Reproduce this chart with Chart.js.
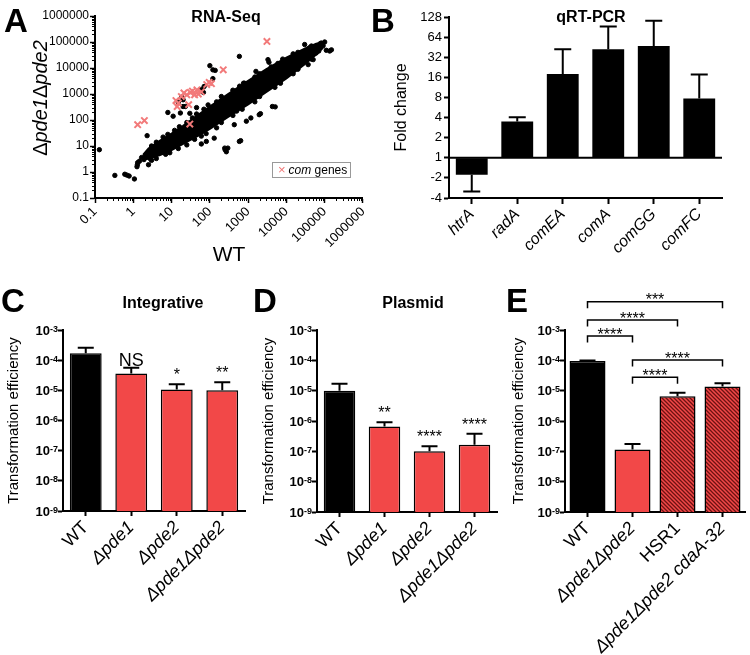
<!DOCTYPE html>
<html>
<head>
<meta charset="utf-8">
<title>pde1 pde2 competence</title>
<script src="https://cdn.jsdelivr.net/npm/chart.js@4.4.1/dist/chart.umd.min.js"></script>
<style>
  body { margin: 0; width: 750px; height: 655px; position: relative; overflow: hidden; background: #fff;
         font-family: 'Liberation Sans', Arial, sans-serif; color: #000; }
  canvas { position: absolute; }
  .letter { position: absolute; font-size: 33px; font-weight: bold; line-height: 1; }
  .ttl { position: absolute; font-size: 16px; font-weight: bold; transform: translate(-50%, -50%); white-space: nowrap; }
  .ytitle { position: absolute; font-size: 20px; white-space: nowrap; transform: translate(-50%, -50%) rotate(-90deg); }
  .legend { position: absolute; left: 272px; top: 162px; width: 77px; height: 14px; border: 1px solid #999;
            font-size: 12px; line-height: 14px; white-space: nowrap; }
  .legend .mk { color: #f07878; padding: 0 3px 0 5px; font-size: 13px; }
</style>
</head>
<body>
<canvas id="chartA" width="375" height="270" style="left:0;top:0"></canvas>
<canvas id="chartB" width="375" height="270" style="left:375px;top:0"></canvas>
<canvas id="chartC" width="250" height="395" style="left:0;top:260px"></canvas>
<canvas id="chartD" width="250" height="395" style="left:250px;top:260px"></canvas>
<canvas id="chartE" width="250" height="395" style="left:500px;top:260px"></canvas>

<div class="letter" style="left:4px;top:4px">A</div>
<div class="letter" style="left:371px;top:4px">B</div>
<div class="letter" style="left:1px;top:284px">C</div>
<div class="letter" style="left:253px;top:284px">D</div>
<div class="letter" style="left:506px;top:284px">E</div>
<div class="ttl" style="left:226px;top:17px">RNA-Seq</div>
<div class="ttl" style="left:591px;top:17px">qRT-PCR</div>
<div class="ttl" style="left:163px;top:303px">Integrative</div>
<div class="ttl" style="left:413px;top:303px">Plasmid</div>
<div class="ytitle" style="left:40px;top:98px">Δ<i>pde1</i>Δ<i>pde2</i></div>
<div class="legend"><span class="mk">×</span><i>com</i> genes</div>

<script>
Chart.defaults.font.family = "'Liberation Sans', Arial, sans-serif";
Chart.defaults.color = '#000';
Chart.defaults.animation = false;
Chart.defaults.plugins.legend.display = false;
Chart.defaults.plugins.tooltip.enabled = false;

// A - RNA-Seq, WT vs double mutant
const rnaTickValues = [0.1, 1, 10, 100, 1000, 10000, 100000, 1000000];
const rnaTickLabels = ['0.1', '1', '10', '100', '1000', '10000', '100000', '1000000'];
// dense part of the cloud, upper and lower edge
const bandUpper = [[1.8,4.5],[2.5,8],[5,16],[10,30],[20,60],[50,160],[100,330],[300,1000],[1000,3200],
  [3000,9000],[10000,25000],[30000,55000],[60000,85000],[90000,95000]];
const bandLower = [[1.8,3],[2.5,3.2],[5,4.5],[10,7],[20,12],[50,25],[100,45],[300,130],[1000,400],
  [3000,1200],[10000,4000],[30000,14000],[60000,33000],[90000,60000]];
const otherGenes = [
  [0.13,7.2],[0.33,0.74],[0.6,0.82],[0.68,0.76],[0.78,0.7],[1.07,0.54],[1.25,1.6],[1.3,2.3],[1.28,1.9],
  [1.45,2.6],[1.65,3.6],[1.9,3],[2.3,25],[2.5,1.9],[2.2,4.2],[2.8,3.2],[3.2,5.5],
  [8,195],[11,140],[15,480],[20,330],[18.6,760],[17,186],[20,600],[23,330],[59,1500],[68,1150],[71,1950],
  [100,12300],[120,8500],[120,3900],[138,8100],[590,28000],[1600,7400],[3300,21000],[3500,16600],
  [760,2600],[30,180],[45,300],
  [81,15],[250,7.2],[245,8.3],[270,6],[295,8.3],[590,15],[640,16],[435,66],[1180,120],[1950,160],
  [2100,175],[4300,330],[5100,320],[130,20],[60,12],[900,90],
  [30000,80000],[81000,91000],[91000,72000],[110000,48000],[135000,45000],[60000,38000],[50000,21000],
  [37000,13500],[13800,7400],[100000,100000],[75000,85000],[40000,60000],[150000,50000],[70000,60000],
  [25000,30000],
  [3,10],[4,14],[6,22],[8,28],[12,40],[16,55],[25,80],[35,120],[45,170],[70,260],[90,380],[150,500],
  [200,800],[400,1400],[600,2000],[800,2600],[1500,4500],[2000,6000],[4000,11000],[6000,15000],
  [8000,22000],[15000,35000],[20000,40000],[45000,70000],
  [3,2.8],[4,3.3],[7,4.8],[9,5.5],[15,8],[25,11],[40,18],[60,24],[80,30],[150,50],[200,80],[400,150],
  [500,220],[700,260],[1500,500],[2000,800],[5000,1800],[7000,2600],[15000,6000],[20000,9000],
  [45000,22000],[70000,45000]
];
const comGenes = [[1.3,66],[1.95,95],[13,560],[14,330],[15,450],[18,800],[21,1100],[25,930],[28,390],
  [31,1150],[35,1300],[40,930],[46,1450],[50,1000],[60,1200],[83,2300],[96,2800],[110,2500],
  [224,8500],[3100,105000],[30,70]];

// B - qRT-PCR fold change (GraphPad style: -2 means 1/2)
const qpcrGenes = ['htrA', 'radA', 'comEA', 'comA', 'comGG', 'comFC'];
const qpcrFold = [-1.8, 3.5, 18, 42, 47, 7.7];
const qpcrErr = [-3.2, 4.05, 42, 92, 112, 17.7];
const foldTicks = [-4, -2, 1, 2, 4, 8, 16, 32, 64, 128];

// C-E - transformation efficiency
const effTicks = [1e-9, 1e-8, 1e-7, 1e-6, 1e-5, 1e-4, 1e-3];
const strains = ['WT', 'Δpde1', 'Δpde2', 'Δpde1Δpde2'];
const integrative = [1.7e-4, 3.6e-5, 1.07e-5, 1.0e-5];
const integrativeErr = [2.6e-4, 5.6e-5, 1.58e-5, 1.85e-5];
const integrativeSig = ['', 'NS', '*', '**'];
const plasmid = [1.0e-5, 6.6e-7, 1.0e-7, 1.66e-7];
const plasmidErr = [1.7e-5, 9.1e-7, 1.47e-7, 3.8e-7];
const plasmidSig = ['', '**', '****', '****'];
const suppressors = ['WT', 'Δpde1Δpde2', 'HSR1', 'Δpde1Δpde2 cdaA-32'];
const suppressorEff = [9.5e-5, 1.15e-7, 6.5e-6, 1.38e-5];
const suppressorErr = [9.8e-5, 1.75e-7, 8.5e-6, 1.74e-5];
const suppressorPairs = [[0, 3, '***'], [0, 2, '****'], [0, 1, '****'], [1, 3, '****'], [1, 2, '****']];

const RED = '#f24848';
const toLog2 = v => v < 0 ? -Math.log2(-v) : Math.log2(v);
const xy = arr => arr.map(([x, y]) => ({x, y}));

function hatch() {
  const c = document.createElement('canvas');
  c.width = c.height = 4;
  const g = c.getContext('2d');
  g.fillStyle = RED;
  g.fillRect(0, 0, 4, 4);
  g.strokeStyle = '#6e1212';
  g.lineWidth = 1.3;
  g.beginPath();
  g.moveTo(-1, -1); g.lineTo(5, 5);
  g.moveTo(-1, 3); g.lineTo(1, 5);
  g.moveTo(3, -1); g.lineTo(5, 1);
  g.stroke();
  return g.createPattern(c, 'repeat');
}

// small ticks between decades on panel A
const minorLogTicks = {
  id: 'minorLogTicks',
  afterDraw(chart) {
    const {ctx, chartArea: a, scales: {x, y}} = chart;
    ctx.save();
    ctx.strokeStyle = '#000';
    ctx.lineWidth = 1;
    ctx.beginPath();
    for (let d = 0; d < rnaTickValues.length - 1; d++) {
      for (let m = 2; m < 10; m++) {
        const v = rnaTickValues[d] * m;
        const px = Math.round(x.getPixelForValue(v)) + 0.5;
        ctx.moveTo(px, a.bottom); ctx.lineTo(px, a.bottom + 3);
        const py = Math.round(y.getPixelForValue(v)) + 0.5;
        ctx.moveTo(a.left, py); ctx.lineTo(a.left - 3, py);
      }
    }
    ctx.stroke();
    ctx.restore();
  }
};

const errorBars = {
  id: 'errorBars',
  afterDatasetsDraw(chart, args, opts) {
    const {ctx, scales: {y}} = chart;
    const bars = chart.getDatasetMeta(0).data;
    ctx.save();
    ctx.strokeStyle = '#000';
    ctx.lineWidth = 2;
    bars.forEach((bar, i) => {
      const y0 = y.getPixelForValue(opts.tops[i]);
      const y1 = y.getPixelForValue(opts.ends[i]);
      ctx.beginPath();
      ctx.moveTo(bar.x, y0); ctx.lineTo(bar.x, y1);
      ctx.moveTo(bar.x - opts.cap / 2, y1); ctx.lineTo(bar.x + opts.cap / 2, y1);
      ctx.stroke();
    });
    ctx.restore();
  }
};

const sigLabels = {
  id: 'sigLabels',
  afterDatasetsDraw(chart, args, opts) {
    if (!opts.labels) return;
    const {ctx, scales: {y}} = chart;
    const bars = chart.getDatasetMeta(0).data;
    ctx.save();
    ctx.fillStyle = '#000';
    ctx.textAlign = 'center';
    ctx.textBaseline = 'alphabetic';
    opts.labels.forEach((t, i) => {
      if (!t) return;
      const y1 = y.getPixelForValue(opts.ends[i]);
      const star = t[0] === '*';
      ctx.font = (star ? '16px' : '18px') + " 'Liberation Sans', Arial";
      ctx.fillText(t, bars[i].x, star ? y1 - 4 : y1 - 1.5);
    });
    ctx.restore();
  }
};

const brackets = {
  id: 'brackets',
  afterDraw(chart, args, opts) {
    if (!opts.pairs) return;
    const {ctx, chartArea: a, scales: {x}} = chart;
    ctx.save();
    ctx.strokeStyle = '#000';
    ctx.fillStyle = '#000';
    ctx.lineWidth = 1.5;
    ctx.font = "16px 'Liberation Sans', Arial";
    ctx.textAlign = 'center';
    opts.pairs.forEach(([i, j, t], k) => {
      const yl = a.top + opts.levels[k];
      const x0 = x.getPixelForValue(i), x1 = x.getPixelForValue(j);
      ctx.beginPath();
      ctx.moveTo(x0, yl + opts.leg); ctx.lineTo(x0, yl); ctx.lineTo(x1, yl); ctx.lineTo(x1, yl + opts.leg);
      ctx.stroke();
      ctx.fillText(t, (x0 + x1) / 2, yl + 3.7);
    });
    ctx.restore();
  }
};

// 10^n labels with a raised exponent
const powLabels = {
  id: 'powLabels',
  afterDraw(chart) {
    const {ctx, chartArea: a, scales: {y}} = chart;
    ctx.save();
    ctx.fillStyle = '#000';
    ctx.textAlign = 'right';
    ctx.textBaseline = 'alphabetic';
    effTicks.forEach(v => {
      const py = y.getPixelForValue(v);
      const e = String(Math.round(Math.log10(v)));
      const xr = a.left - 5;
      ctx.font = "bold 9px 'Liberation Sans', Arial";
      const ew = ctx.measureText(e).width;
      ctx.fillText(e, xr, py + 1.5);
      ctx.font = "bold 13px 'Liberation Sans', Arial";
      ctx.fillText('10', xr - ew, py + 4.5);
    });
    ctx.restore();
  }
};

// A
new Chart(document.getElementById('chartA'), {
  type: 'scatter',
  data: {
    datasets: [
      { type: 'line', data: xy(bandUpper), borderColor: '#000', borderWidth: 2, pointRadius: 0, fill: false, order: 3 },
      { type: 'line', data: xy(bandLower), borderColor: '#000', borderWidth: 2, pointRadius: 0, fill: '-1',
        backgroundColor: '#000', order: 2 },
      { data: xy(otherGenes), backgroundColor: '#000', borderColor: '#000', pointRadius: 2.2, order: 1 },
      { data: xy(comGenes), pointStyle: 'crossRot', pointRadius: 4.5, borderColor: '#f27a7a',
        backgroundColor: '#f27a7a', borderWidth: 2, order: 0 }
    ]
  },
  options: {
    responsive: false,
    layout: { padding: { top: 16, right: 8, left: 0, bottom: 0 } },
    scales: {
      x: {
        type: 'logarithmic', min: 0.1, max: 1000000,
        afterBuildTicks: s => { s.ticks = rnaTickValues.map(value => ({value})); },
        afterFit: s => { s.height = 72; },
        grid: { drawOnChartArea: false, color: '#000', tickLength: 5, tickWidth: 1.5 },
        border: { color: '#000', width: 2 },
        ticks: { callback: (v, i) => rnaTickLabels[i], autoSkip: false, maxRotation: 45, minRotation: 45,
                 padding: 1, font: { size: 13 } },
        title: { display: true, text: 'WT', font: { size: 21 }, padding: { top: 0, bottom: 2 } }
      },
      y: {
        type: 'logarithmic', min: 0.1, max: 1000000,
        afterBuildTicks: s => { s.ticks = rnaTickValues.map(value => ({value})); },
        afterFit: s => { s.width = 95; },
        grid: { drawOnChartArea: false, color: '#000', tickLength: 5, tickWidth: 1.5 },
        border: { color: '#000', width: 2 },
        ticks: { callback: (v, i) => rnaTickLabels[i], padding: 1, font: { size: 12 } }
      }
    }
  },
  plugins: [minorLogTicks]
});

// B
new Chart(document.getElementById('chartB'), {
  type: 'bar',
  data: {
    labels: qpcrGenes,
    datasets: [{ data: qpcrFold.map(v => [0, toLog2(v)]), backgroundColor: '#000', borderWidth: 0,
                 barPercentage: 0.7, categoryPercentage: 1 }]
  },
  options: {
    responsive: false,
    layout: { padding: { top: 17, right: 28, left: 0, bottom: 0 } },
    plugins: {
      errorBars: { tops: qpcrFold.map(toLog2), ends: qpcrErr.map(toLog2), cap: 17 },
      baseLine: { value: 0 }
    },
    scales: {
      x: {
        afterFit: s => { s.height = 72; },
        grid: { offset: false, drawOnChartArea: false, color: '#000', tickLength: 6, tickWidth: 2 },
        border: { color: '#000', width: 2 },
        ticks: { autoSkip: false, maxRotation: 45, minRotation: 45, padding: 1, font: { size: 16, style: 'italic' } }
      },
      y: {
        min: toLog2(-4), max: toLog2(128),
        afterBuildTicks: s => { s.ticks = foldTicks.map(t => ({value: toLog2(t)})); },
        afterFit: s => { s.width = 74; },
        grid: { drawOnChartArea: false, color: '#000', tickLength: 5, tickWidth: 2 },
        border: { color: '#000', width: 2 },
        ticks: { callback: (v, i) => String(foldTicks[i]), padding: 2, font: { size: 13 } },
        title: { display: true, text: 'Fold change', font: { size: 16 }, padding: { top: 17, bottom: 0 } }
      }
    }
  },
  plugins: [errorBars, {
    id: 'baseLine',
    afterDatasetsDraw(chart, args, opts) {
      const {ctx, chartArea: a, scales: {y}} = chart;
      const py = y.getPixelForValue(opts.value);
      ctx.save();
      ctx.strokeStyle = '#000';
      ctx.lineWidth = 2;
      ctx.beginPath();
      ctx.moveTo(a.left, py); ctx.lineTo(a.right, py);
      ctx.stroke();
      ctx.restore();
    }
  }]
});

// C, D, E
function efficiencyChart(id, labels, values, errs, fills, opt) {
  return new Chart(document.getElementById(id), {
    type: 'bar',
    data: {
      labels,
      datasets: [{ data: values, backgroundColor: fills, borderColor: '#000', borderWidth: 1.5,
                   barPercentage: opt.barPct, categoryPercentage: 1 }]
    },
    options: {
      responsive: false,
      layout: { padding: { top: 70, right: opt.padRight, left: 0, bottom: 0 } },
      plugins: {
        errorBars: { tops: values, ends: errs, cap: 16 },
        sigLabels: { labels: opt.sig, ends: errs },
        brackets: opt.brackets || {}
      },
      scales: {
        x: {
          afterFit: s => { s.height = opt.xHeight; },
          grid: { offset: false, drawOnChartArea: false, color: '#000', tickLength: 5, tickWidth: 2 },
          border: { color: '#000', width: 2 },
          ticks: { autoSkip: false, maxRotation: 45, minRotation: 45, padding: 1,
                   font: c => ({ size: 18, style: opt.italic[c.index] ? 'italic' : 'normal' }) }
        },
        y: {
          type: 'logarithmic', min: 1e-9, max: 1e-3,
          afterBuildTicks: s => { s.ticks = effTicks.map(value => ({value})); },
          afterFit: s => { s.width = opt.yWidth; },
          grid: { drawOnChartArea: false, color: '#000', tickLength: 5, tickWidth: 2 },
          border: { color: '#000', width: 2 },
          ticks: { display: false },
          title: { display: true, text: 'Transformation efficiency', font: { size: 15 },
                   padding: { top: opt.titlePad, bottom: 0 } }
        }
      }
    },
    plugins: [errorBars, sigLabels, brackets, powLabels]
  });
}

efficiencyChart('chartC', strains, integrative, integrativeErr, ['#000', RED, RED, RED],
  { barPct: 0.7, padRight: 5, xHeight: 144, yWidth: 63, titlePad: 5, sig: integrativeSig,
    italic: [false, true, true, true] });

efficiencyChart('chartD', strains, plasmid, plasmidErr, ['#000', RED, RED, RED],
  { barPct: 0.7, padRight: 3, xHeight: 143, yWidth: 67, titlePad: 10, sig: plasmidSig,
    italic: [false, true, true, true] });

efficiencyChart('chartE', suppressors, suppressorEff, suppressorErr, ['#000', RED, hatch(), hatch()],
  { barPct: 0.8, padRight: 5, xHeight: 143, yWidth: 65, titlePad: 10, sig: null,
    italic: [false, true, false, true],
    brackets: { pairs: suppressorPairs, levels: [-28.3, -10, 6, 30, 47.3], leg: 6.5 } });
</script>
</body>
</html>
